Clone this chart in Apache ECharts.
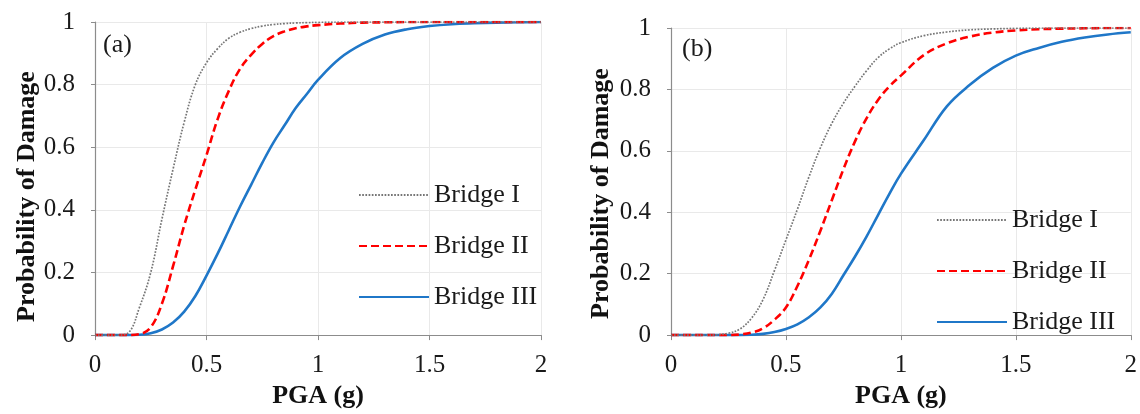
<!DOCTYPE html>
<html lang="en">
<head>
    <meta charset="UTF-8">
    <title>Fragility curves</title>
    <script src="https://cdn.jsdelivr.net/npm/echarts@6/dist/echarts.min.js"></script>
    <style>
        html, body { margin: 0; padding: 0; background: #fff; }
    </style>
</head>
<body>
<div id="main" style="width: 1140px;height:414px;"></div>
<script>
    // PGA (g) sample points shared by both panels
    const pga = [0, 0.1, 0.15, 0.2, 0.25, 0.3, 0.35, 0.4, 0.45, 0.5, 0.55, 0.6, 0.65, 0.7, 0.75,
        0.8, 0.85, 0.9, 0.95, 1.0, 1.1, 1.2, 1.3, 1.4, 1.5, 1.6, 1.7, 1.8, 1.9, 2.0];

    // panel (a)
    const bridgeI_a = [0, 0, 0.008, 0.09, 0.2, 0.37, 0.53, 0.68, 0.8, 0.87, 0.915, 0.948, 0.967, 0.979, 0.987,
        0.992, 0.995, 0.997, 0.998, 0.999, 1, 1, 1, 1, 1, 1, 1, 1, 1, 1];
    const bridgeII_a = [0, 0, 0, 0.003, 0.025, 0.1, 0.22, 0.35, 0.465, 0.575, 0.69, 0.78, 0.85, 0.895, 0.93,
        0.955, 0.97, 0.98, 0.986, 0.99, 0.995, 0.998, 0.999, 1, 1, 1, 1, 1, 1, 1];
    const bridgeIII_a = [0, 0, 0, 0.001, 0.006, 0.018, 0.04, 0.075, 0.125, 0.19, 0.26, 0.335, 0.41, 0.48, 0.55,
        0.615, 0.67, 0.725, 0.77, 0.815, 0.885, 0.93, 0.96, 0.977, 0.987, 0.993, 0.996, 0.998, 0.999, 1];

    // panel (b)
    const bridgeI_b = [0, 0, 0, 0.001, 0.006, 0.02, 0.055, 0.115, 0.21, 0.31, 0.41, 0.515, 0.61, 0.69, 0.755,
        0.81, 0.86, 0.903, 0.932, 0.952, 0.975, 0.987, 0.994, 0.997, 0.999, 1, 1, 1, 1, 1];
    const bridgeII_b = [0, 0, 0, 0, 0, 0.002, 0.008, 0.022, 0.05, 0.09, 0.16, 0.245, 0.34, 0.44, 0.54,
        0.63, 0.705, 0.765, 0.81, 0.845, 0.912, 0.95, 0.972, 0.985, 0.992, 0.996, 0.998, 0.999, 1, 1];
    const bridgeIII_b = [0, 0, 0, 0, 0, 0, 0.001, 0.004, 0.01, 0.02, 0.035, 0.058, 0.09, 0.135, 0.195,
        0.255, 0.32, 0.39, 0.46, 0.525, 0.635, 0.745, 0.815, 0.87, 0.91, 0.935, 0.955, 0.969, 0.979, 0.986];

    const names = ['Bridge I', 'Bridge II', 'Bridge III'];

    const serif = '"Liberation Serif", "Times New Roman", serif';
    const styles = [
        { color: '#767676', width: 1.7, type: [1.7, 1.5] },
        { color: '#ff0000', width: 2.6, type: [8, 4] },
        { color: '#1f77c8', width: 2.6, type: 'solid' }
    ];

    function pairs(ys) {
        return pga.map((x, i) => [x, ys[i]]);
    }

    function xAxis(gridIndex) {
        return {
            type: 'value', gridIndex: gridIndex, min: 0, max: 2, interval: 0.5,
            name: 'PGA (g)', nameLocation: 'middle', nameGap: 39,
            nameTextStyle: { fontFamily: serif, fontSize: 26, fontWeight: 'bold', color: '#111' },
            axisLine: { lineStyle: { color: '#8c8c8c', width: 1.2 } },
            axisTick: { show: true, length: 5, lineStyle: { color: '#8c8c8c' } },
            axisLabel: { fontFamily: serif, fontSize: 25, color: '#1a1a1a', margin: 18 },
            splitLine: { lineStyle: { color: '#e9e9e9', width: 1 } }
        };
    }

    // shift: pushes the rotated name down the axis
    function yAxis(gridIndex, gap, shift) {
        return {
            type: 'value', gridIndex: gridIndex, min: 0, max: 1, interval: 0.2,
            name: 'Probability of Damage', nameLocation: 'middle', nameGap: gap,
            nameTextStyle: {
                fontFamily: serif, fontSize: 26, fontWeight: 'bold', color: '#111',
                padding: [0, shift, 0, 0]
            },
            axisLine: { show: true, lineStyle: { color: '#8c8c8c', width: 1.2 } },
            axisTick: { show: true, length: 4, lineStyle: { color: '#8c8c8c' } },
            axisLabel: { fontFamily: serif, fontSize: 25, color: '#1a1a1a', margin: 20 },
            splitLine: { lineStyle: { color: '#e9e9e9', width: 1 } }
        };
    }

    function legend(left, top) {
        return {
            orient: 'vertical', left: left, top: top, padding: 0,
            itemWidth: 70, itemHeight: 14, itemGap: 25,
            data: names,
            itemStyle: { opacity: 0 },
            textStyle: { fontFamily: serif, fontSize: 26, color: '#1a1a1a' }
        };
    }

    const panels = [
        [bridgeI_a, bridgeII_a, bridgeIII_a],
        [bridgeI_b, bridgeII_b, bridgeIII_b]
    ];
    let series = [];
    panels.forEach((panel, p) => {
        panel.forEach((ys, k) => {
            series.push({
                name: names[k], type: 'line',
                xAxisIndex: p, yAxisIndex: p,
                data: pairs(ys),
                showSymbol: false, symbol: 'none',
                smooth: 0.4,
                lineStyle: styles[k],
                itemStyle: { color: styles[k].color },
                z: 3 - k
            });
        });
    });

    var myChart = echarts.init(document.getElementById('main'));
    option = {
        backgroundColor: '#ffffff',
        animation: false,
        grid: [
            { left: 95, top: 22, width: 446, height: 328 },
            { left: 671, top: 28, width: 461, height: 320 }
        ],
        xAxis: [xAxis(0), xAxis(1)],
        yAxis: [yAxis(0, 52, 36), yAxis(1, 57, 24)],
        legend: [legend(358, 182), legend(936, 207)],
        graphic: [
            { type: 'text', left: 103, top: 32, style: { text: '(a)', font: '26px ' + serif, fill: '#1a1a1a' } },
            { type: 'text', left: 682, top: 36, style: { text: '(b)', font: '26px ' + serif, fill: '#1a1a1a' } }
        ],
        series
    };

    myChart.setOption(option);
</script>
</body>
</html>
